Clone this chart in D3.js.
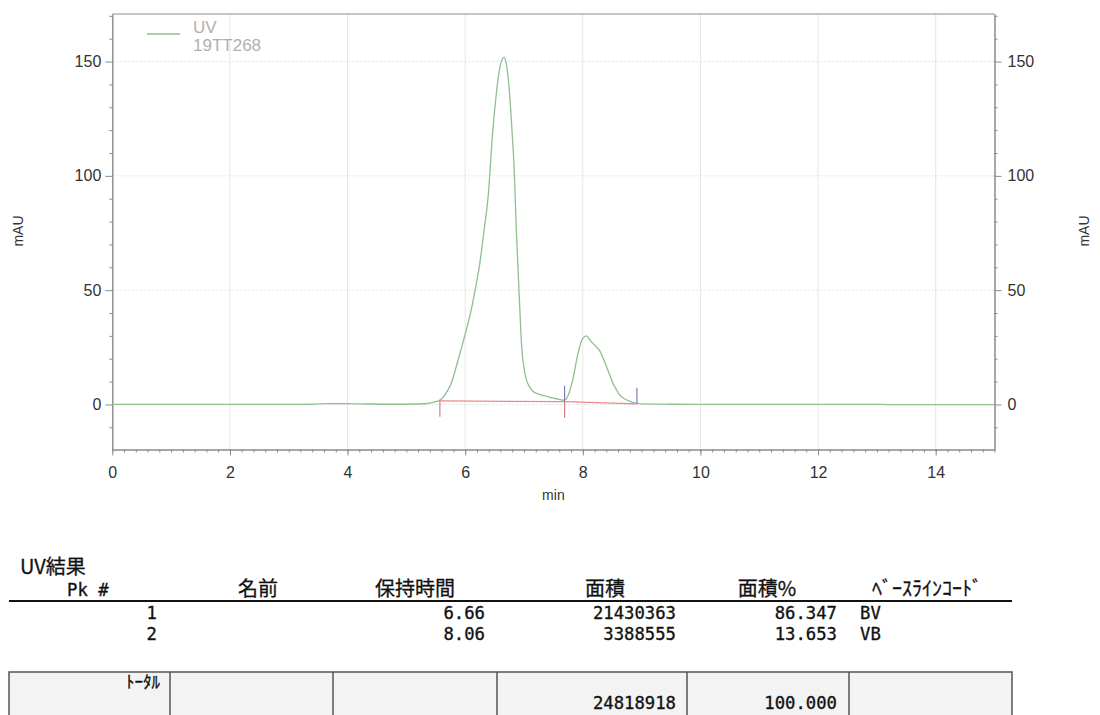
<!DOCTYPE HTML>
<html lang="ja">

<head>
  <meta charset="utf-8">
  <title>UV 19TT268</title>
  <script src="https://d3js.org/d3.v7.min.js"></script>
  <style>
    body { margin: 0; background: #fff; }
    svg { display: block; }
  </style>
</head>

<body>
  <div id="stage"></div>

<script>
  // trace (min, mAU)
  var times  = [0, 1, 2, 3, 3.4, 3.7, 4.0, 4.4, 4.8, 5.2, 5.4, 5.5, 5.57, 5.65, 5.71, 5.78, 5.85, 5.93, 6.02, 6.10, 6.16, 6.25, 6.32, 6.39, 6.47, 6.53, 6.58, 6.63, 6.66, 6.70, 6.76, 6.80, 6.83, 6.87, 6.92, 6.96, 7.00, 7.04, 7.10, 7.15, 7.25, 7.38, 7.5, 7.6, 7.69, 7.75, 7.83, 7.92, 8.00, 8.06, 8.10, 8.14, 8.22, 8.29, 8.35, 8.40, 8.46, 8.51, 8.57, 8.62, 8.70, 8.79, 8.9, 9.0, 9.5, 10, 11, 12, 13, 13.5, 14, 15];
  var signal = [0, 0, 0, 0, 0.1, 0.4, 0.4, 0.2, 0.1, 0.2, 0.6, 1.2, 1.9, 4, 6.5, 10.5, 16.7, 24, 32.7, 41, 48.8, 61.9, 76, 90.8, 120, 136, 146, 151, 151.8, 149, 134, 118, 105, 76, 47, 25.4, 16, 10.9, 7.5, 5.8, 4.5, 3.6, 2.8, 2.2, 1.9, 4, 10.9, 22.5, 29, 30, 29, 27.6, 25.5, 23.3, 20, 16.7, 12.8, 9.4, 6.5, 4.4, 2.6, 1.5, 0.6, 0.3, 0.1, 0, 0, 0, 0, -0.1, -0.1, -0.1];

  // integration baseline and markers
  var baseT = [5.57, 7.69, 8.92];
  var baseV = [1.6, 1.2, 0.3];
  var startMarkT = [5.57, 7.69];   // red, pointing down
  var endMarkT = [7.69, 8.92];     // blue, pointing up

  var xTicks = [0, 2, 4, 6, 8, 10, 12, 14];
  var yTicks = [0, 50, 100, 150];
  var yMinor = [-10, 10, 20, 30, 40, 60, 70, 80, 90, 110, 120, 130, 140, 160, 170];

  // results table
  var peakNums = ["1", "2"];
  var retTimes = ["6.66", "8.06"];
  var areas = ["21430363", "3388555"];
  var areaPcts = ["86.347", "13.653"];
  var baseCodes = ["BV", "VB"];
  var totalArea = "24818918";
  var totalPct = "100.000";

  var svg = d3.select("#stage").append("svg").attr("width", 1100).attr("height", 715);

  var x = d3.scaleLinear().domain([0, 15]).range([112.3, 994.5]);
  var y = d3.scaleLinear().domain([-19.7, 170.8]).range([449.5, 14]);

  var sans = "'Liberation Sans', Arial, sans-serif";

  // grid
  svg.append("g").selectAll("line").data(xTicks.slice(1)).join("line")
    .attr("x1", d => x(d)).attr("x2", d => x(d))
    .attr("y1", y.range()[0]).attr("y2", y.range()[1])
    .attr("stroke", "#e6e6e6");
  svg.append("g").selectAll("line").data(yTicks).join("line")
    .attr("x1", x.range()[0]).attr("x2", x.range()[1])
    .attr("y1", d => y(d)).attr("y2", d => y(d))
    .attr("stroke", "#e2e2e2").attr("stroke-dasharray", "2,2");

  function styleAxis(g) {
    g.selectAll("path, line").attr("stroke", "#8a8a8a");
    g.selectAll("text").attr("fill", "#333").style("font-family", sans).style("font-size", "16px");
  }

  var minorX = d3.range(0, 76).map(i => i / 5);

  // bottom
  svg.append("g").attr("transform", "translate(0," + y.range()[0] + ")")
    .call(d3.axisBottom(x).tickValues(minorX).tickSize(3).tickFormat("").tickSizeOuter(0)).call(styleAxis);
  svg.append("g").attr("transform", "translate(0," + y.range()[0] + ")")
    .call(d3.axisBottom(x).tickValues(xTicks).tickSize(6).tickPadding(11).tickSizeOuter(0)).call(styleAxis);

  // left
  svg.append("g").attr("transform", "translate(" + x.range()[0] + ",0)")
    .call(d3.axisLeft(y).tickValues(yMinor).tickSize(3).tickFormat("").tickSizeOuter(0)).call(styleAxis);
  svg.append("g").attr("transform", "translate(" + x.range()[0] + ",0)")
    .call(d3.axisLeft(y).tickValues(yTicks).tickSize(7).tickPadding(4).tickSizeOuter(0)).call(styleAxis);

  // right
  svg.append("g").attr("transform", "translate(" + x.range()[1] + ",0)")
    .call(d3.axisRight(y).tickValues(yMinor).tickSize(3).tickFormat("").tickSizeOuter(0)).call(styleAxis);
  svg.append("g").attr("transform", "translate(" + x.range()[1] + ",0)")
    .call(d3.axisRight(y).tickValues(yTicks).tickSize(7).tickPadding(6).tickSizeOuter(0)).call(styleAxis);

  // top frame
  svg.append("line").attr("x1", x.range()[0]).attr("x2", x.range()[1])
    .attr("y1", y.range()[1]).attr("y2", y.range()[1]).attr("stroke", "#8a8a8a");

  // axis titles
  svg.append("text").attr("x", (x.range()[0] + x.range()[1]) / 2).attr("y", 500)
    .attr("text-anchor", "middle").attr("fill", "#333").style("font-family", sans).style("font-size", "14px").text("min");
  [23, 1089].forEach(function (px) {
    svg.append("text").attr("transform", "translate(" + px + ",231) rotate(-90)")
      .attr("text-anchor", "middle").attr("fill", "#333").style("font-family", sans).style("font-size", "14px").text("mAU");
  });

  // trace
  var pts = times.map((t, i) => [t, signal[i]]);
  var line = d3.line().x(d => x(d[0])).y(d => y(d[1])).curve(d3.curveMonotoneX);
  svg.append("path").datum(pts).attr("d", line)
    .attr("fill", "none").attr("stroke", "#8fbf8f").attr("stroke-width", 1.3);

  // baseline
  var bpts = baseT.map((t, i) => [t, baseV[i]]);
  svg.append("path").datum(bpts).attr("d", d3.line().x(d => x(d[0])).y(d => y(d[1])))
    .attr("fill", "none").attr("stroke", "#ee8888").attr("stroke-width", 1.2);

  function baseAt(t) { return baseV[baseT.indexOf(t)]; }
  svg.append("g").selectAll("line").data(startMarkT).join("line")
    .attr("x1", d => x(d)).attr("x2", d => x(d))
    .attr("y1", d => y(baseAt(d))).attr("y2", d => y(baseAt(d)) + 16)
    .attr("stroke", "#e07a7a").attr("stroke-width", 1.2);
  svg.append("g").selectAll("line").data(endMarkT).join("line")
    .attr("x1", d => x(d)).attr("x2", d => x(d))
    .attr("y1", d => y(baseAt(d))).attr("y2", d => y(baseAt(d)) - 16)
    .attr("stroke", "#7a7ac0").attr("stroke-width", 1.2);

  // legend
  svg.append("line").attr("x1", 147).attr("x2", 180).attr("y1", 34).attr("y2", 34)
    .attr("stroke", "#8fbf8f").attr("stroke-width", 1.3);
  svg.append("text").attr("x", 193).attr("y", 33).attr("fill", "#b0b0b0")
    .style("font-family", sans).style("font-size", "17px").text("UV");
  svg.append("text").attr("x", 193).attr("y", 51).attr("fill", "#b0b0b0")
    .style("font-family", sans).style("font-size", "17px").text("19TT268");

  // ---- results table ----
  var jp = "'Noto Sans CJK JP', sans-serif";
  var mono = "'DejaVu Sans Mono', 'Liberation Mono', monospace";
  var tbl = svg.append("g");

  function jtext(px, py, s, anchor) {
    tbl.append("text").attr("x", px).attr("y", py).attr("text-anchor", anchor || "start")
      .attr("fill", "#111").attr("stroke", "#111").attr("stroke-width", 0.3)
      .style("font-family", jp).style("font-size", "20px").text(s);
  }
  function ntext(px, py, s, anchor) {
    tbl.append("text").attr("transform", "translate(" + px + "," + py + ") scale(1.15,1.12)")
      .attr("text-anchor", anchor || "end").attr("fill", "#111").attr("stroke", "#111").attr("stroke-width", 0.3)
      .style("font-family", mono).style("font-size", "15px").text(s);
  }

  jtext(20, 574, "UV結果");
  ntext(67, 596, "Pk #", "start");
  jtext(258, 596, "名前", "middle");
  jtext(415, 596, "保持時間", "middle");
  jtext(605, 596, "面積", "middle");
  jtext(767, 596, "面積%", "middle");
  jtext(927, 596, "ﾍﾞｰｽﾗｲﾝｺｰﾄﾞ", "middle");

  tbl.append("line").attr("x1", 9).attr("x2", 1012).attr("y1", 601).attr("y2", 601)
    .attr("stroke", "#111").attr("stroke-width", 2);

  peakNums.forEach(function (p, i) {
    var py = 619 + i * 20.5;
    ntext(157, py, p);
    ntext(485, py, retTimes[i]);
    ntext(676, py, areas[i]);
    ntext(837, py, areaPcts[i]);
    ntext(860, py, baseCodes[i], "start");
  });

  // total row
  tbl.append("rect").attr("x", 9).attr("y", 672).attr("width", 1003).attr("height", 60)
    .attr("fill", "#f3f3f3").attr("stroke", "#555").attr("stroke-width", 1.5);
  [170, 333, 497, 687, 849].forEach(function (cx) {
    tbl.append("line").attr("x1", cx).attr("x2", cx).attr("y1", 672).attr("y2", 715)
      .attr("stroke", "#555").attr("stroke-width", 1.5);
  });
  tbl.append("text").attr("x", 160).attr("y", 688).attr("text-anchor", "end").attr("fill", "#111")
    .attr("stroke", "#111").attr("stroke-width", 0.3)
    .style("font-family", jp).style("font-size", "17px").text("ﾄｰﾀﾙ");
  ntext(676, 709, totalArea);
  ntext(837, 709, totalPct);
</script>
</body>
</html>
